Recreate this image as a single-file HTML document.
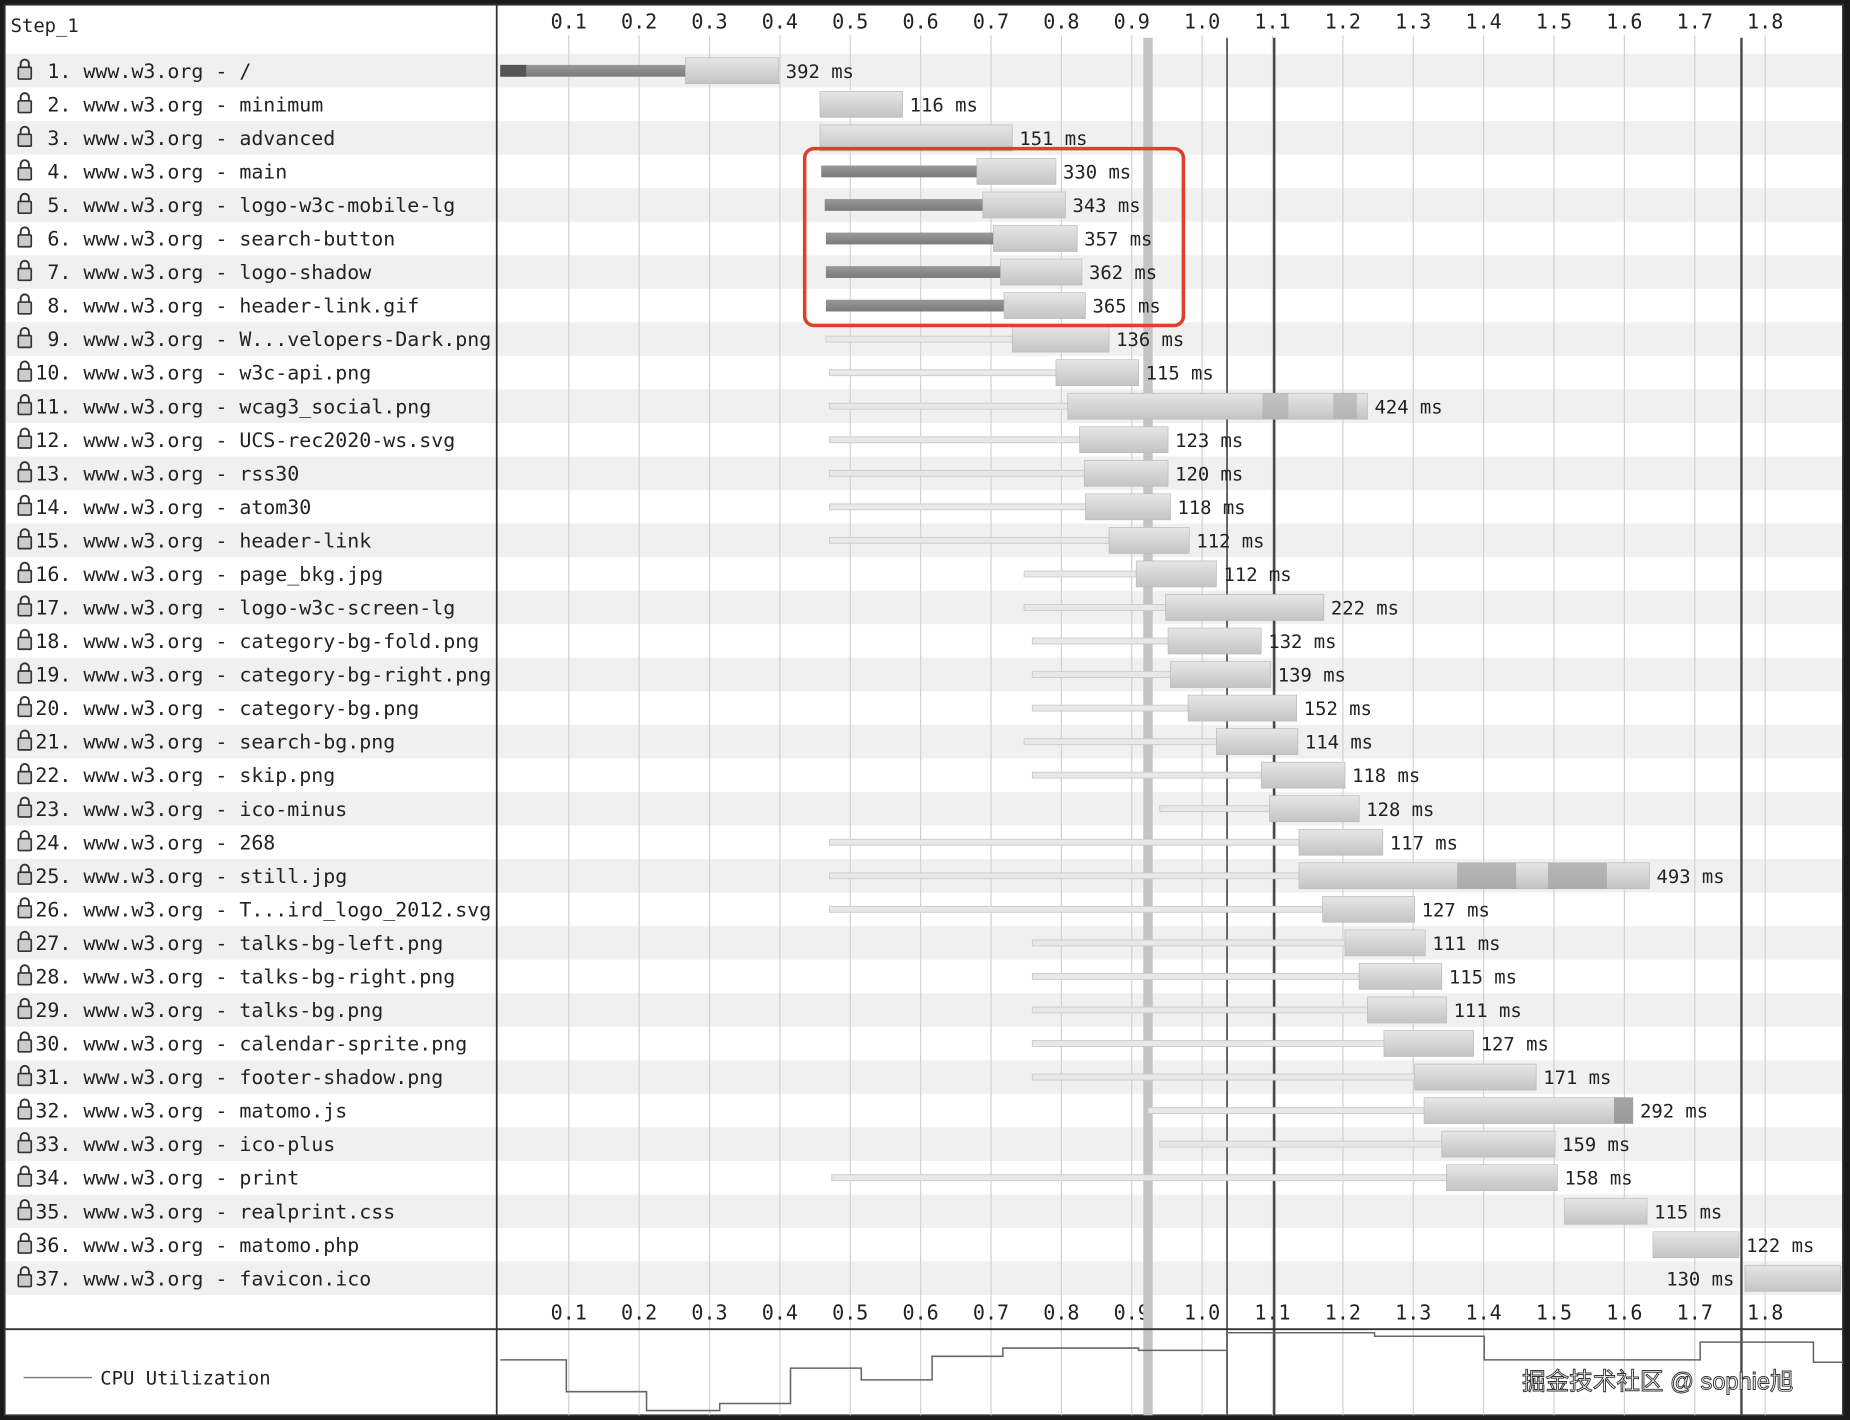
<!DOCTYPE html>
<html><head><meta charset="utf-8"><style>
html,body{margin:0;padding:0;background:#1a1a1a;width:1850px;height:1420px;overflow:hidden}
svg{display:block}
</style></head><body>
<svg id="s" width="1850" height="1420" viewBox="0 0 1568 1204" preserveAspectRatio="none" xmlns="http://www.w3.org/2000/svg">
<defs>
<linearGradient id="lg" x1="0" y1="0" x2="0" y2="1"><stop offset="0" stop-color="#e6e6e6"/><stop offset="1" stop-color="#c4c4c4"/></linearGradient>
<linearGradient id="dg" x1="0" y1="0" x2="0" y2="1"><stop offset="0" stop-color="#999"/><stop offset="1" stop-color="#7a7a7a"/></linearGradient>
</defs>
<rect x="4" y="4" width="1558" height="1196" fill="#fff" stroke="#333" stroke-width="1.5"/>
<g id="g"></g>
</svg>
<script>
var g=document.getElementById('g'),h='';
var names=["/","minimum","advanced","main","logo-w3c-mobile-lg","search-button","logo-shadow","header-link.gif","W...velopers-Dark.png","w3c-api.png","wcag3_social.png","UCS-rec2020-ws.svg","rss30","atom30","header-link","page_bkg.jpg","logo-w3c-screen-lg","category-bg-fold.png","category-bg-right.png","category-bg.png","search-bg.png","skip.png","ico-minus","268","still.jpg","T...ird_logo_2012.svg","talks-bg-left.png","talks-bg-right.png","talks-bg.png","calendar-sprite.png","footer-shadow.png","matomo.js","ico-plus","print","realprint.css","matomo.php","favicon.ico"];
var d=[[0,424,581,660,"392"],[0,0,695,765,"116"],[0,0,695,858,"151"],[0,696,828,895,"330"],[0,699,833,903,"343"],[0,700,842,913,"357"],[0,700,848,917,"362"],[0,700,851,920,"365"],[700,0,858,940,"136"],[703,0,895,965,"115"],[703,0,905,1159,"424"],[703,0,915,990,"123"],[703,0,919,990,"120"],[703,0,920,992,"118"],[703,0,940,1008,"112"],[868,0,963,1031,"112"],[868,0,988,1122,"222"],[875,0,990,1069,"132"],[875,0,992,1077,"139"],[875,0,1007,1099,"152"],[868,0,1031,1100,"114"],[875,0,1069,1140,"118"],[983,0,1076,1152,"128"],[703,0,1101,1172,"117"],[703,0,1101,1398,"493"],[703,0,1121,1199,"127"],[875,0,1140,1208,"111"],[875,0,1152,1222,"115"],[875,0,1159,1226,"111"],[875,0,1173,1249,"127"],[875,0,1199,1302,"171"],[973,0,1207,1384,"292"],[983,0,1222,1318,"159"],[705,0,1226,1320,"158"],[0,0,1326,1396,"115"],[0,0,1401,1474,"122"],[0,0,1479,1560,"130"]];
var P=28.44,T0=45.8;
for(var i=0;i<37;i++){var y=T0+i*P;if(i%2==0)h+='<rect x="5" y="'+y+'" width="1556" height="'+P+'" fill="#f0f0f0"/>';}
for(var k=1;k<=18;k++){var x=422.4+k*59.65;h+='<line x1="'+x+'" y1="30" x2="'+x+'" y2="1200" stroke="#d0d0d0" stroke-width="1"/>';
var t=(k/10).toFixed(1);h+='<text x="'+x+'" y="24" text-anchor="middle" font-size="17">'+t+'</text><text x="'+x+'" y="1119" text-anchor="middle" font-size="17">'+t+'</text>';}
h+='<rect x="969" y="32" width="8" height="1168" fill="#c4c4c4"/>';
h+='<line x1="1040" y1="32" x2="1040" y2="1200" stroke="#555" stroke-width="1.5"/><line x1="1080" y1="32" x2="1080" y2="1200" stroke="#444" stroke-width="2"/><line x1="1476" y1="32" x2="1476" y2="1200" stroke="#444" stroke-width="2"/>';
h+='<line x1="421" y1="4" x2="421" y2="1200" stroke="#333" stroke-width="1.5"/>';
h+='<line x1="4" y1="1127" x2="1562" y2="1127" stroke="#333" stroke-width="1.5"/>';
h+='<text x="9" y="27" font-size="16">Step_1</text>';
for(var i=0;i<37;i++){var c=T0+i*P+P/2,r=d[i];
h+='<rect x="15.5" y="'+(c-3)+'" width="11" height="10" rx="1" fill="#ccc" stroke="#333" stroke-width="1.4"/><path d="M17.5 '+(c-3)+' v-3 a3.5 3.5 0 0 1 7 0 v3" fill="none" stroke="#333" stroke-width="1.6"/>';
h+='<text x="30" y="'+(c+6)+'" font-size="16.9" xml:space="preserve">'+(i<9?' ':'')+(i+1)+'. www.w3.org - '+names[i]+'</text>';
if(r[0])h+='<rect x="'+r[0]+'" y="'+(c-2.5)+'" width="'+(r[2]-r[0])+'" height="5" fill="#e8e8e8" stroke="#ccc" stroke-width="0.8"/>';
if(r[1]){h+='<rect x="'+r[1]+'" y="'+(c-5)+'" width="'+(r[2]-r[1])+'" height="10" fill="url(#dg)"/>';if(i==0)h+='<rect x="424" y="'+(c-5)+'" width="22" height="10" fill="#555"/>';}
h+='<rect x="'+r[2]+'" y="'+(c-11)+'" width="'+(r[3]-r[2])+'" height="22" fill="url(#lg)" stroke="#bbb" stroke-width="0.6"/>';
if(i==36)h+='<text x="1470" y="'+(c+6)+'" text-anchor="end" font-size="16">130 ms</text>';
else h+='<text x="'+(r[3]+6)+'" y="'+(c+6)+'" font-size="16">'+r[4]+' ms</text>';}
var c11=T0+10*P+P/2,c25=T0+24*P+P/2,c32=T0+31*P+P/2;
h+='<rect x="1070" y="'+(c11-11)+'" width="22" height="22" fill="#aaa" opacity=".6"/><rect x="1130" y="'+(c11-11)+'" width="20" height="22" fill="#aaa" opacity=".6"/>';
h+='<rect x="1235" y="'+(c25-11)+'" width="50" height="22" fill="#999" opacity=".6"/><rect x="1312" y="'+(c25-11)+'" width="50" height="22" fill="#999" opacity=".6"/><rect x="1368" y="'+(c32-11)+'" width="16" height="22" fill="#888" opacity=".7"/>';
h+='<rect x="682" y="126" width="321" height="150" rx="8" fill="none" stroke="#e0402a" stroke-width="3"/>';
h+='<line x1="20" y1="1168" x2="78" y2="1168" stroke="#777" stroke-width="1.2"/><text x="85" y="1174" font-size="16">CPU Utilization</text>';
h+='<polyline fill="none" stroke="#666" stroke-width="1.3" points="424,1153 480,1153 480,1180 548,1180 548,1196 610,1196 610,1190 670,1190 670,1160 730,1160 730,1170 790,1170 790,1150 850,1150 850,1143 965,1143 965,1145 1040,1145 1040,1130 1165,1130 1165,1133 1258,1133 1258,1153 1441,1153 1441,1138 1537,1138 1537,1155 1562,1155"/>';
h+='<text x="1290" y="1178" font-size="20" fill="#fff" stroke="#333" stroke-width="0.8" font-family="Liberation Sans, Noto Sans CJK SC, sans-serif">掘金技术社区 @ sophie旭</text>';
g.innerHTML=h;
g.setAttribute('font-family','"DejaVu Sans Mono","Liberation Mono",monospace');
g.setAttribute('fill','#222');
</script>
</body></html>
